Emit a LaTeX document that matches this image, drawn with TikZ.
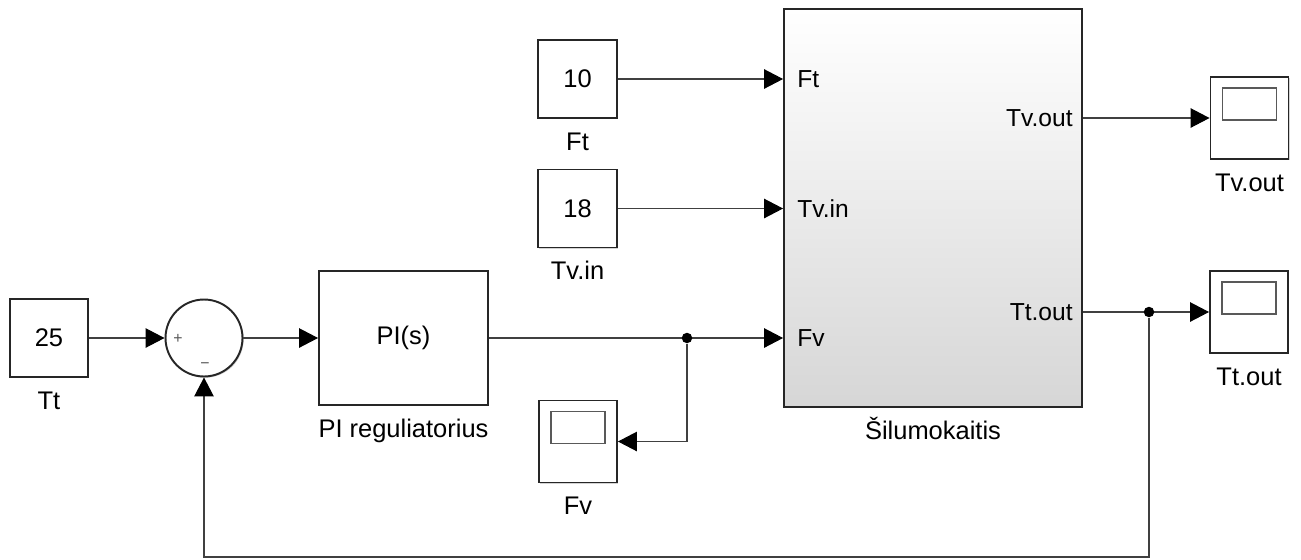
\documentclass[tikz,border=0pt]{standalone}
\usepackage{fontspec}
\setmainfont{Liberation Sans}
\usetikzlibrary{positioning, calc, arrows.meta, shadows}

\begin{document}
\begin{tikzpicture}[
            x=0.02cm, y=-0.02cm,
            label distance=7.5pt,
            block/.style={rectangle, draw=black!85, fill=white, line width=1.1pt, inner sep=0pt, font=\fontsize{14.5}{16}\selectfont, drop shadow={shadow xshift=0.7pt, shadow yshift=-0.7pt, opacity=0.35}},
            const/.style={block, minimum width=1.57cm, minimum height=1.56cm},
            scope/.style={block, minimum width=1.56cm, minimum height=1.64cm, path picture={\draw[black!65, line width=0.8pt] ($(path picture bounding box.north west)+(12,11)$) rectangle ($(path picture bounding box.north east)+(-12,43)$);}},
            sumblock/.style={circle, draw=black!85, fill=white, line width=1.1pt, minimum size=1.54cm, inner sep=0pt, drop shadow={shadow xshift=0.7pt, shadow yshift=-0.7pt, opacity=0.35}},
            lbl/.style={font=\fontsize{14.5}{16}\selectfont, inner sep=0pt, text height=10pt, text depth=0pt},
            port/.style={font=\fontsize{14}{16}\selectfont, inner sep=0pt, text height=10pt, text depth=0pt},
            sign/.style={font=\fontsize{9}{10}\selectfont, text=black!65, inner sep=0pt},
            sig/.style={-{Triangle[length=3.8mm, width=3.9mm, color=black]}, draw=black!75, line width=0.6pt},
            dot/.style={circle, fill=black, inner sep=0pt, minimum size=0.21cm}
        ]
            \useasboundingbox (0,0) rectangle (1301,559);

            % --- PI loop ---
            \node[const, label={[lbl]below:Tt}] (tt) at (49,338) {25};
            \node[sumblock] (sum) at (204,338) {};
            \node[sign] (plus) at (178,339) {+};
            \node[sign] (minus) at (205,366) {−};
            \node[block, minimum width=3.38cm, minimum height=2.68cm, label={[lbl]below:PI reguliatorius}] (pi) at (403.5,338) {PI(s)};

            % --- constant inputs ---
            \node[const, label={[lbl]below:Ft}] (ft) at (577.5,79) {10};
            \node[const, label={[lbl]below:Tv.in}] (tvin) at (577.5,208.5) {18};
            \node[scope, label={[lbl]below:Fv}] (fvscope) at (578,441.5) {};

            % --- heat exchanger subsystem ---
            \node[block, minimum width=5.96cm, minimum height=7.96cm, top color=white, middle color=black!4, bottom color=black!16, label={[lbl]below:Šilumokaitis}] (heat) at (933,208) {};
            \node[port, anchor=west] (pft) at (797,79) {Ft};
            \node[port, anchor=west] (ptvin) at (797,208.5) {Tv.in};
            \node[port, anchor=west] (pfv) at (797,338) {Fv};
            \node[port, anchor=east] (ptvout) at (1073,118) {Tv.out};
            \node[port, anchor=east] (pttout) at (1073,312) {Tt.out};

            % --- output scopes ---
            \node[scope, label={[lbl]below:Tv.out}] (tvscope) at (1249.5,118) {};
            \node[scope, label={[lbl]below:Tt.out}] (ttscope) at (1249,312) {};

            % --- signals ---
            \draw[sig] (tt) -- (sum);
            \draw[sig] (sum) -- (pi);
            \draw[sig] (ft) -- (ft -| heat.west);
            \draw[sig] (tvin) -- (tvin -| heat.west);
            \draw[sig] (pi) -- (pi -| heat.west);
            \node[dot] (fvj) at (687,338) {};
            \draw[sig] (fvj) |- (fvscope);
            \draw[sig] (heat.east |- tvscope) -- (tvscope);
            \draw[sig] (heat.east |- ttscope) -- (ttscope);

            % feedback
            \node[dot] (ttj) at (1149,312) {};
            \coordinate (fb) at (1149,557);
            \draw[sig] (ttj) -- (fb) -| (sum);
        \end{tikzpicture}
\end{document}
